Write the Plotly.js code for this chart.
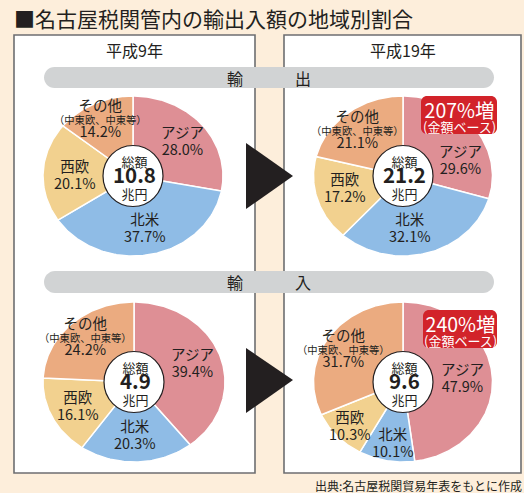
<!DOCTYPE html>
<html>
<head>
<meta charset="utf-8">
<script src="https://cdn.plot.ly/plotly-3.0.1.min.js"></script>
<style>
html,body{margin:0;padding:0;background:#fdeedb;}
#chart{width:524px;height:493px;}
</style>
</head>
<body>
<div id="chart"></div>
<script>
// ---- data ----
const chartTitle = '■名古屋税関管内の輸出入額の地域別割合';
const periods = ['平成9年', '平成19年'];
const flows = ['輸出', '輸入'];
const categories = ['アジア', '北米', '西欧', 'その他'];
const otherNote = '（中東欧、中東等）';
const export1997 = [28.0, 37.7, 20.1, 14.2];
const export2007 = [29.6, 32.1, 17.2, 21.1];
const import1997 = [39.4, 20.3, 16.1, 24.2];
const import2007 = [47.9, 10.1, 10.3, 31.7];
const totalExport = [10.8, 21.2];   // 兆円
const totalImport = [4.9, 9.6];     // 兆円
const increasePct = [207, 240];     // 輸出, 輸入 (金額ベース)
const sourceNote = '出典:名古屋税関貿易年表をもとに作成';

// ---- styles / layout geometry ----
const FONT = '"Noto Sans CJK JP", "Noto Sans", sans-serif';
const INK = '#231f20';
const sliceColors = ['#de8f95', '#8fbce6', '#f2d18f', '#ebab80'];

// label centres: [x, y of the label block centre]
const pies = [
  {values: export1997, total: totalExport[0], cx: 133, cy: 176, rx: 90, ry: 80,
   lab: [[182,140],[145,226.5],[75,174],[100,117.5]]},
  {values: export2007, total: totalExport[1], cx: 403, cy: 176, rx: 89.5, ry: 80,
   lab: [[460,159],[410,226.5],[345,186.5],[357,128.5]], badge: 0},
  {values: import1997, total: totalImport[0], cx: 134, cy: 382, rx: 91, ry: 80,
   lab: [[192,361.5],[135,433.5],[78,405],[85,335.5]]},
  {values: import2007, total: totalImport[1], cx: 403, cy: 382, rx: 89.5, ry: 80,
   lab: [[462,377],[393,441.5],[350,425],[343,347]], badge: 1}
];
const badgeBoxes = [[421, 96, 497, 134], [423, 310, 497, 348]];

function rr(x0, y0, x1, y1, r) {
  const k = 0.5523 * r;
  return `M${x0+r},${y0} L${x1-r},${y0} C${x1-r+k},${y0} ${x1},${y0+r-k} ${x1},${y0+r} ` +
         `L${x1},${y1-r} C${x1},${y1-r+k} ${x1-r+k},${y1} ${x1-r},${y1} ` +
         `L${x0+r},${y1} C${x0+r-k},${y1} ${x0},${y1-r+k} ${x0},${y1-r} ` +
         `L${x0},${y0+r} C${x0},${y0+r-k} ${x0+r-k},${y0} ${x0+r},${y0} Z`;
}
function sp(t, size, bold) {
  const s = `<span style="font-size:${size}px">${t}</span>`;
  return bold ? '<b>' + s + '</b>' : s;
}

const traces = [];
const annotations = [];
const shapes = [];

function ann(x, y, text, size, opts) {
  annotations.push(Object.assign({
    x: x, y: y, xref: 'x', yref: 'y', text: text, showarrow: false,
    xanchor: 'center', yanchor: 'middle', borderpad: 0,
    font: {family: FONT, size: size, color: INK}
  }, opts || {}));
}

// background boxes
shapes.push({type: 'rect', layer: 'below', xref: 'x', yref: 'y', x0: 14, y0: 35, x1: 255, y1: 473,
  fillcolor: '#ffffff', line: {color: '#6d6e71', width: 1.6}});
shapes.push({type: 'rect', layer: 'below', xref: 'x', yref: 'y', x0: 284, y0: 35, x1: 521, y1: 473,
  fillcolor: '#ffffff', line: {color: '#6d6e71', width: 1.6}});
// gray flow bars
const flowBars = [[67, 88], [271, 293]];
flowBars.forEach((b, i) => {
  shapes.push({type: 'path', layer: 'below', xref: 'x', yref: 'y', path: rr(44, b[0], 494, b[1], (b[1]-b[0])/2),
    fillcolor: '#d1d3d4', line: {width: 0}});
  const ch = flows[i].split('');
  const my = (b[0] + b[1]) / 2;
  ann(235, my, ch[0], 16);
  ann(303, my, ch[1], 16);
});
// arrows
[[143, 176, 209], [348, 380, 413]].forEach(a => {
  shapes.push({type: 'path', layer: 'above', xref: 'x', yref: 'y',
    path: `M246,${a[0]} L293,${a[1]} L246,${a[2]} Z`, fillcolor: INK, line: {width: 0}});
});

// pies
pies.forEach(p => {
  let cum = 0;
  p.values.forEach((v, i) => {
    const a0 = cum / 100 * 2 * Math.PI;
    cum += v;
    const a1 = cum / 100 * 2 * Math.PI;
    const xs = [p.cx], ys = [p.cy];
    const n = Math.max(4, Math.ceil((a1 - a0) / (Math.PI / 180)));
    for (let j = 0; j <= n; j++) {
      const t = a0 + (a1 - a0) * j / n;
      xs.push(p.cx + p.rx * Math.sin(t));
      ys.push(p.cy - p.ry * Math.cos(t));
    }
    xs.push(p.cx); ys.push(p.cy);
    traces.push({type: 'scatter', mode: 'lines', x: xs, y: ys, fill: 'toself',
      fillcolor: sliceColors[i], line: {color: '#ffffff', width: 1.5},
      hoverinfo: 'skip', showlegend: false});
    const L = p.lab[i];
    const pct = v.toFixed(1) + '%';
    if (i === 3) {
      ann(L[0], L[1], sp(categories[i], 14.5) + '<br>' + sp(otherNote, 10.3) + '<br>' + sp(pct, 14.5), 10);
    } else {
      ann(L[0], L[1], sp(categories[i], 14.5) + '<br>' + sp(pct, 14.5), 13.2);
    }
  });
  // center disc
  shapes.push({type: 'circle', layer: 'above', xref: 'x', yref: 'y',
    x0: p.cx - 30, x1: p.cx + 30, y0: p.cy - 30.5, y1: p.cy + 30.5,
    fillcolor: '#ffffff', line: {color: INK, width: 1.2}});
  ann(p.cx + 1, p.cy + 1, sp('総額', 13) + '<br>' + sp(p.total.toFixed(1), 20.5, true) + '<br>' + sp('兆円', 13), 12.3);
  if (p.badge !== undefined) {
    const b = badgeBoxes[p.badge];
    shapes.push({type: 'path', layer: 'above', xref: 'x', yref: 'y', path: rr(b[0], b[1], b[2], b[3], 6),
      fillcolor: '#d2232a', line: {width: 0}});
    const mx = (b[0] + b[2]) / 2;
    ann(mx, (b[1] + b[3]) / 2 + 0.5, sp(increasePct[p.badge] + '%増', 19.5) + '<br>' + sp('(金額ベース)', 13), 11,
      {font: {family: FONT, size: 11, color: '#ffffff'}});
  }
});

// headers
ann(134.5, 50, periods[0], 16);
ann(403, 50, periods[1], 16);
// title
ann(13, 18, chartTitle, 21, {xanchor: 'left'});
// source
ann(523, 485, sourceNote, 12, {xanchor: 'right'});

const layout = {
  width: 524, height: 493,
  margin: {l: 0, r: 0, t: 0, b: 0},
  paper_bgcolor: '#fdeedb', plot_bgcolor: 'rgba(0,0,0,0)',
  xaxis: {range: [0, 524], visible: false, fixedrange: true},
  yaxis: {range: [493, 0], visible: false, fixedrange: true},
  showlegend: false,
  shapes: shapes,
  annotations: annotations
};
Plotly.newPlot('chart', traces, layout, {displayModeBar: false, staticPlot: true});
</script>
</body>
</html>
